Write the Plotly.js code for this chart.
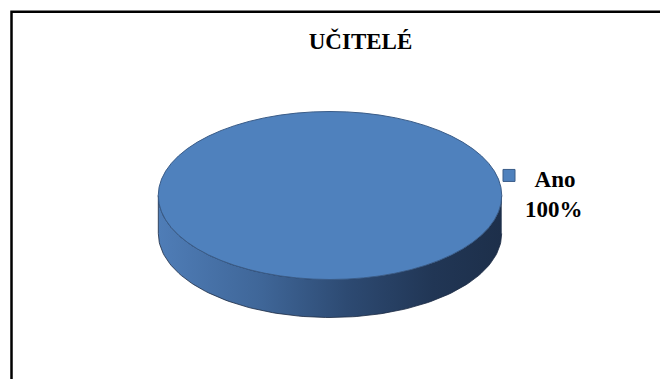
<!DOCTYPE html>
<html>
<head>
<meta charset="utf-8">
<script src="https://cdn.plot.ly/plotly-3.0.1.min.js"></script>
<style>html,body{margin:0;padding:0;background:#fff}#chart{width:660px;height:379px}</style>
</head>
<body>
<div id="chart"></div>
<script>
// ---- data ----
const labels = ['Ano'];
const values = [100];
const chartTitle = 'UČITELÉ';

// ---- style / geometry ----
const W = 660, H = 379;
const CX = 330, CY = 195.5, RX = 171.7, RY = 84, DEPTH = 38;
const sliceColors = ['#4F81BD'];
const sideScale = [[0, '#4f7db7'], [0.3, '#3f6698'], [0.55, '#2d4a72'], [0.8, '#213655'], [1, '#1d2f4a']];
const FONT = 'Liberation Serif, Times New Roman, serif';

const total = values.reduce((a, b) => a + b, 0);
const traces = [];

// side (extrusion) of each slice, visible only on the front half (screen angle 0..PI)
let start = -Math.PI / 2;
values.forEach((v, i) => {
  const span = 2 * Math.PI * v / total;
  const a0 = start, a1 = start + span;
  start = a1;
  [[0, Math.PI], [2 * Math.PI, 3 * Math.PI], [-2 * Math.PI, -Math.PI]].forEach(([f0, f1]) => {
    const s0 = Math.max(a0, f0), s1 = Math.min(a1, f1);
    if (s1 <= s0) return;
    const n = 120;
    const xs = [], ys = [];
    for (let k = 0; k <= n; k++) {
      const t = s0 + (s1 - s0) * k / n;
      xs.push(CX + RX * Math.cos(t)); ys.push(CY + RY * Math.sin(t));
    }
    for (let k = n; k >= 0; k--) {
      const t = s0 + (s1 - s0) * k / n;
      xs.push(CX + RX * Math.cos(t)); ys.push(CY + RY * Math.sin(t) + DEPTH);
    }
    traces.push({
      type: 'scatter', mode: 'lines', x: xs, y: ys, fill: 'toself',
      fillgradient: {type: 'horizontal', colorscale: sideScale},
      line: {color: '#1a2a42', width: 0.8},
      hoverinfo: 'skip', showlegend: false
    });
  });
});

// legend labels built from data
const legendLabels = labels.map((l, i) =>
  '<b>\u00a0\u2006' + l + '<br>' + Math.round(values[i] / total * 100) + '%</b>');

// top face: real pie, squashed vertically after render
traces.push({
  type: 'pie', values: values, labels: legendLabels, sort: false,
  direction: 'clockwise', rotation: 0,
  marker: {colors: sliceColors, line: {color: '#3a5c88', width: 1}},
  textinfo: 'none', hoverinfo: 'none',
  domain: {x: [(CX - RX) / W, (CX + RX) / W], y: [(H - CY - RX) / H, (H - CY + RX) / H]}
});

const layout = {
  width: W, height: H,
  margin: {l: 0, r: 0, t: 0, b: 0},
  paper_bgcolor: '#fff', plot_bgcolor: 'rgba(0,0,0,0)',
  title: {text: '<b>' + chartTitle + '</b>', x: 360.5 / W, xanchor: 'center',
          y: 1 - 41 / H, yanchor: 'middle', yref: 'container',
          font: {family: FONT, size: 23, color: '#000'}},
  xaxis: {range: [0, W], visible: false, fixedrange: true},
  yaxis: {range: [H, 0], visible: false, fixedrange: true},
  showlegend: true,
  legend: {x: 485 / W, y: 1 - 157 / H, xanchor: 'left', yanchor: 'top', valign: 'top',
           bgcolor: 'rgba(0,0,0,0)', font: {family: FONT, size: 23, color: '#000'}},
  shapes: [{type: 'rect', xref: 'paper', yref: 'paper',
            x0: 11.5 / W, x1: 1.2, y0: -0.2, y1: 1 - 11.7 / H,
            line: {color: '#000', width: 2.5}, fillcolor: 'rgba(0,0,0,0)'}]
};

Plotly.newPlot('chart', traces, layout, {displayModeBar: false, staticPlot: true}).then(gd => {
  const s = RY / RX;
  const layer = gd.querySelector('.pielayer');
  if (layer) {
    layer.setAttribute('transform', 'translate(0,' + (CY * (1 - s)) + ') scale(1,' + s + ')');
    layer.querySelectorAll('path').forEach(p => p.setAttribute('vector-effect', 'non-scaling-stroke'));
  }
  // nudge legend symbol slightly closer to its text, as in the reference
  gd.querySelectorAll('.legend .legendsymbols').forEach(g => g.setAttribute('transform', 'translate(4,-3)'));
});
</script>
</body>
</html>
